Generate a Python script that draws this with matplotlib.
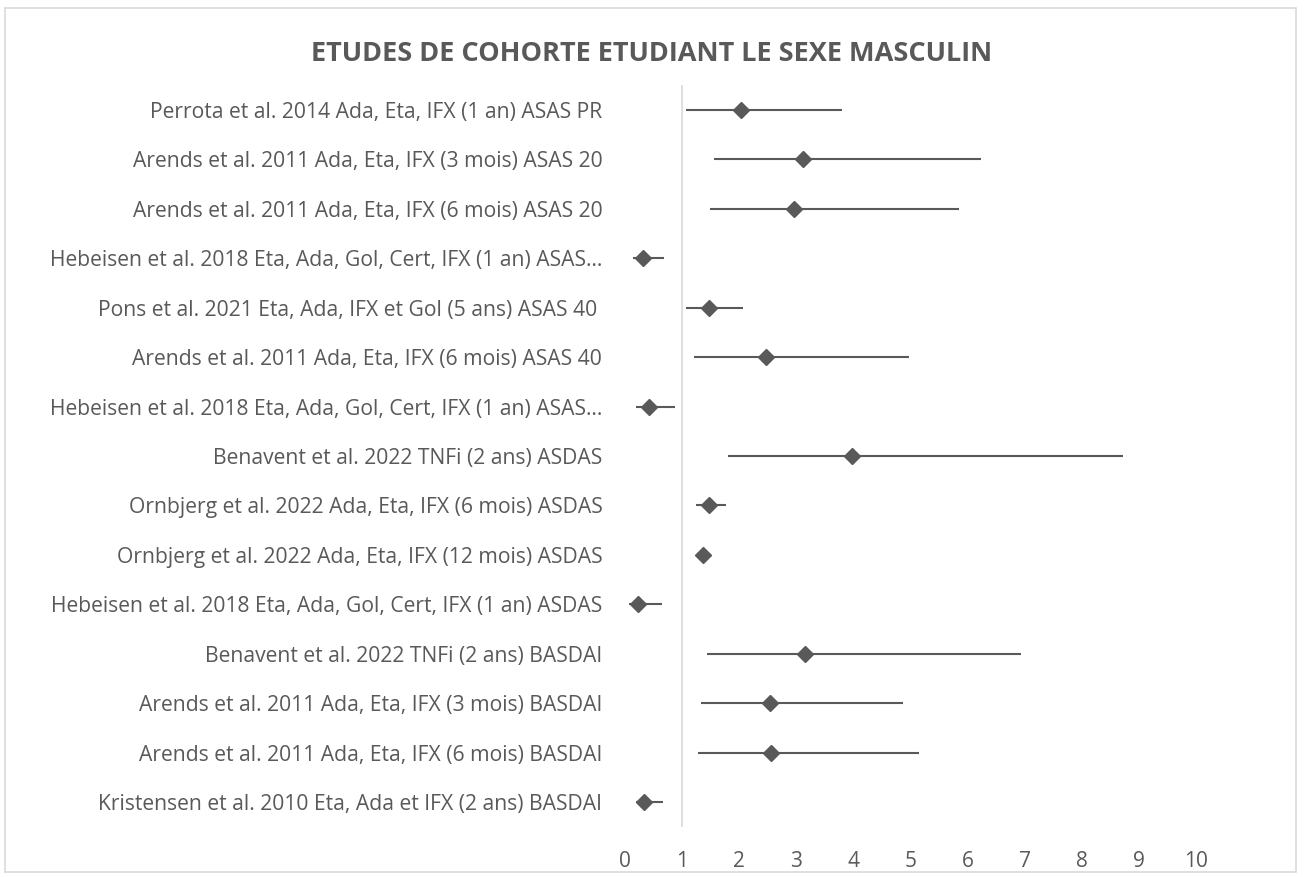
import matplotlib
matplotlib.use("Agg")
from matplotlib import pyplot as plt
from matplotlib.patches import Rectangle

labels = [
    "Perrota et al. 2014 Ada, Eta, IFX (1 an) ASAS PR",
    "Arends et al. 2011 Ada, Eta, IFX (3 mois) ASAS 20",
    "Arends et al. 2011 Ada, Eta, IFX (6 mois) ASAS 20",
    "Hebeisen et al. 2018 Eta, Ada, Gol, Cert, IFX (1 an) ASAS\u2026",
    "Pons et al. 2021 Eta, Ada, IFX et Gol (5 ans) ASAS 40 ",
    "Arends et al. 2011 Ada, Eta, IFX (6 mois) ASAS 40",
    "Hebeisen et al. 2018 Eta, Ada, Gol, Cert, IFX (1 an) ASAS\u2026",
    "Benavent et al. 2022 TNFi (2 ans) ASDAS",
    "Ornbjerg et al. 2022 Ada, Eta, IFX (6 mois) ASDAS",
    "Ornbjerg et al. 2022 Ada, Eta, IFX (12 mois) ASDAS",
    "Hebeisen et al. 2018 Eta, Ada, Gol, Cert, IFX (1 an) ASDAS",
    "Benavent et al. 2022 TNFi (2 ans) BASDAI",
    "Arends et al. 2011 Ada, Eta, IFX (3 mois) BASDAI",
    "Arends et al. 2011 Ada, Eta, IFX (6 mois) BASDAI",
    "Kristensen et al. 2010 Eta, Ada et IFX (2 ans) BASDAI",
]
odds_ratio = [2.03, 3.12, 2.96, 0.32, 1.48, 2.47, 0.42, 3.98, 1.48, 1.38, 0.24, 3.16, 2.55, 2.56, 0.34]
ci_low = [1.08, 1.56, 1.50, 0.15, 1.08, 1.22, 0.20, 1.81, 1.25, 1.30, 0.08, 1.45, 1.33, 1.29, 0.20]
ci_high = [3.81, 6.24, 5.85, 0.69, 2.08, 4.98, 0.89, 8.72, 1.77, 1.46, 0.65, 6.94, 4.87, 5.15, 0.67]
x_ticks = [0, 1, 2, 3, 4, 5, 6, 7, 8, 9, 10]

grey = "#595959"
font = "Open Sans"

fig = plt.figure(figsize=(13.04, 8.77), dpi=100)
fig.patches.append(
    Rectangle((5 / 1304, 5 / 877), 1291 / 1304, 864 / 877, transform=fig.transFigure,
              fill=False, edgecolor="#d9d9d9", linewidth=1.2)
)

ax = fig.add_axes([624.5 / 1304, 1 - 827 / 877, 572 / 1304, 742 / 877])
y = list(range(len(labels)))

ax.hlines(y, ci_low, ci_high, color=grey, linewidth=1.5, zorder=2)
ax.plot(odds_ratio, y, linestyle="none", marker="D", markersize=8,
        color=grey, zorder=3)
ax.axvline(1, color="#d9d9d9", linewidth=1.2, zorder=1)

ax.set_xlim(0, 10)
ax.set_ylim(len(labels) - 0.5, -0.5)
ax.set_xticks(x_ticks)
ax.set_xticklabels([str(t) for t in x_ticks], family=font, fontsize=15, color=grey)
ax.set_yticks(y)
ax.set_yticklabels(labels, family=font, fontsize=15.2, color=grey)
ax.tick_params(axis="both", length=0)
ax.tick_params(axis="x", pad=17)
ax.tick_params(axis="y", pad=16)
for s in ax.spines.values():
    s.set_visible(False)

fig.text(0.5, 1 - 54 / 877, "ETUDES DE COHORTE ETUDIANT LE SEXE MASCULIN",
         ha="center", va="center", family=font, fontweight="bold",
         fontsize=19.5, color=grey)

fig.savefig("out.png", dpi=100)
